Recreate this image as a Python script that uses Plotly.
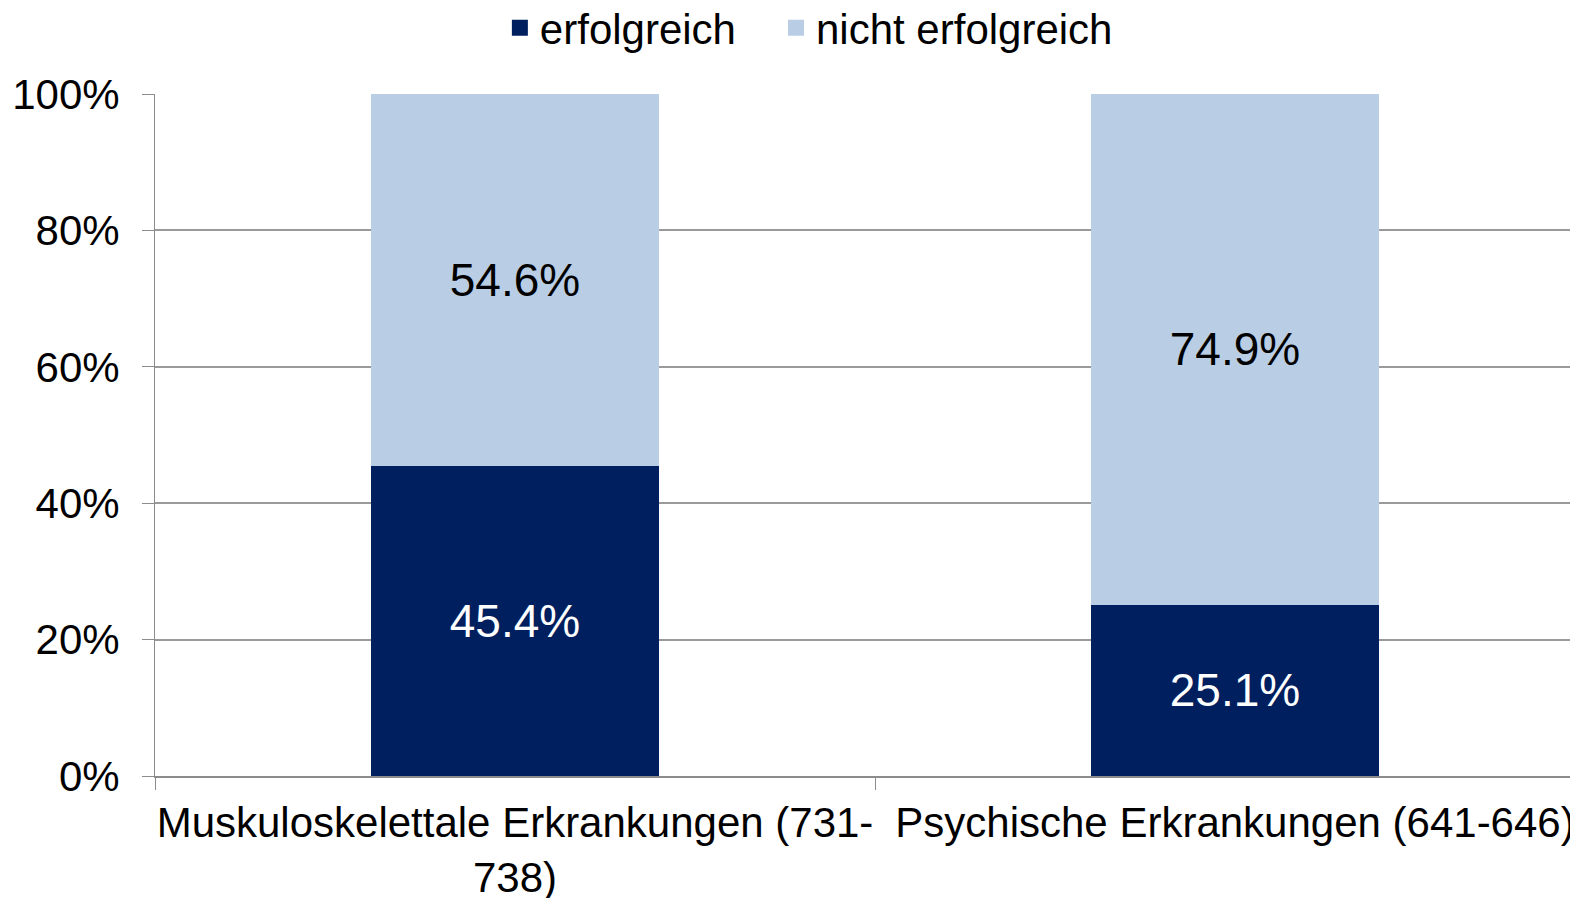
import plotly.graph_objects as go

categories = ["Muskuloskelettale Erkrankungen (731-<br>738)", "Psychische Erkrankungen (641-646)"]
erfolgreich = [0.454, 0.251]
nicht_erfolgreich = [0.546, 0.749]
series_names = ["erfolgreich", "nicht erfolgreich"]
colors = ["#001f5f", "#b9cde5"]
y_ticks = [0, 0.2, 0.4, 0.6, 0.8, 1.0]

FONT = "Liberation Sans, Arial, sans-serif"
GAP = "\u00a0" * 3  # spacing between legend entries

fig = go.Figure()
for vals, name, col, tcol in [(erfolgreich, series_names[0], colors[0], "white"),
                              (nicht_erfolgreich, series_names[1], colors[1], "black")]:
    fig.add_trace(go.Bar(
        x=categories, y=vals, name=name, showlegend=False,
        marker=dict(color=col, line=dict(width=0)),
        texttemplate="%{y:.1%}", textposition="inside", insidetextanchor="middle",
        textangle=0, constraintext="none",
        textfont=dict(color=tcol, size=46, family=FONT),
        width=0.4,
    ))
# legend entries (square symbols)
for i, (name, col) in enumerate(zip(series_names, colors)):
    fig.add_trace(go.Scatter(
        x=[None], y=[None], mode="markers",
        name=name + (GAP if i == 0 else ""),
        marker=dict(symbol="square", size=20, color=col),
    ))

fig.update_layout(
    barmode="stack",
    width=1578, height=898,
    margin=dict(l=147, r=0, t=86, b=130, autoexpand=False),
    paper_bgcolor="white", plot_bgcolor="white",
    font=dict(family=FONT, size=42, color="black"),
    legend=dict(orientation="h", x=0.241, y=1.097, xanchor="left", yanchor="middle",
                font=dict(size=42, family=FONT), itemsizing="trace",
                traceorder="normal", itemwidth=30),
    showlegend=True,
)
fig.update_xaxes(
    type="category", range=[-0.5, 1.4875], automargin=False,
    showline=True, linecolor="#8c8c8c", linewidth=2,
    ticks="outside", tickson="boundaries", ticklen=12, tickcolor="#8c8c8c", tickwidth=1,
    ticklabelstandoff=9, tickangle=0,
    tickfont=dict(size=42, family=FONT), showgrid=False,
)
fig.update_yaxes(
    range=[0, 1], tickvals=y_ticks, tickformat=".0%", automargin=False,
    showline=True, linecolor="#8c8c8c", linewidth=1,
    ticks="outside", ticklen=12, tickcolor="#8c8c8c",
    ticklabelstandoff=14,
    showgrid=True, gridcolor="#9a9a9a", gridwidth=1.5,
    tickfont=dict(size=42, family=FONT), zeroline=False,
)

fig.write_html("out.html")
